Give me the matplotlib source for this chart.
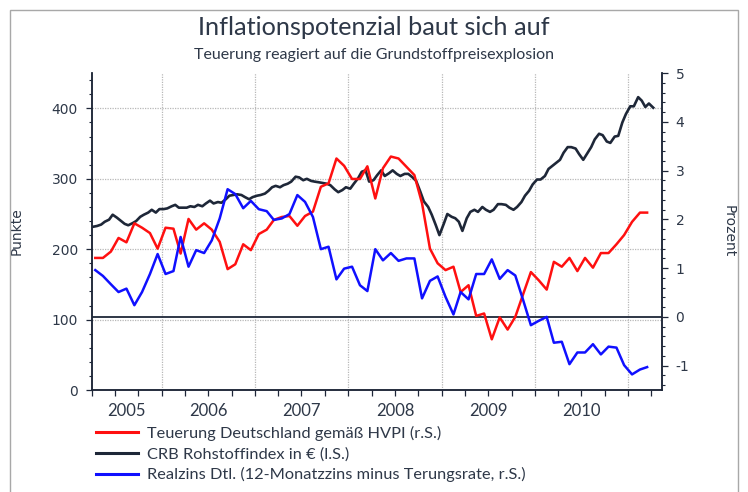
import matplotlib
matplotlib.use('Agg')
import matplotlib.pyplot as plt
import matplotlib.patches as patches
from matplotlib.lines import Line2D
from matplotlib.ticker import MultipleLocator, FixedLocator, NullFormatter, FixedFormatter
import matplotlib.dates as mdates
import pandas as pd

plt.rcParams['axes.unicode_minus'] = False

# ---------------- data ----------------
months = pd.date_range('2005-04-01', periods=72, freq='MS') + pd.Timedelta(days=14)

teuerung = [1.21, 1.21, 1.34, 1.62, 1.53, 1.92, 1.83, 1.72, 1.40,
            1.83, 1.81, 1.30, 2.01, 1.79, 1.92, 1.79, 1.54, 0.98, 1.08, 1.49, 1.37,
            1.70, 1.79, 1.99, 2.05, 2.07, 1.87, 2.07, 2.16, 2.67, 2.74, 3.25, 3.10,
            2.83, 2.83, 3.09, 2.43, 3.05, 3.29, 3.25, 3.08, 2.91, 2.33, 1.40, 1.10,
            0.96, 1.03, 0.51, 0.65, 0.02, 0.07, -0.46, -0.01, -0.26, 0.00, 0.47, 0.92,
            0.75, 0.56, 1.13, 1.03, 1.21, 0.94, 1.21, 1.01, 1.31, 1.31, 1.49, 1.68,
            1.95, 2.14, 2.14]

realzins = [0.96, 0.84, 0.67, 0.51, 0.58, 0.24, 0.51, 0.88, 1.29,
            0.88, 0.94, 1.64, 1.03, 1.37, 1.31, 1.57, 2.02, 2.62, 2.52, 2.23, 2.38,
            2.21, 2.17, 1.99, 2.02, 2.11, 2.50, 2.36, 2.05, 1.39, 1.44, 0.77, 0.99,
            1.03, 0.65, 0.53, 1.39, 1.16, 1.31, 1.15, 1.20, 1.20, 0.38, 0.74, 0.83,
            0.41, 0.05, 0.51, 0.36, 0.88, 0.88, 1.18, 0.78, 0.96, 0.85, 0.34, -0.17,
            -0.08, 0.00, -0.53, -0.51, -0.97, -0.73, -0.73, -0.56, -0.77, -0.61, -0.63, -0.99,
            -1.18, -1.08, -1.03]

crb_dates = pd.date_range('2005-04-01', periods=145, freq='SMS') + pd.Timedelta(days=7)
crb = [232, 233, 235, 239, 242, 249, 245, 241, 236, 234,
       237, 240, 246, 249, 252, 256, 252, 257, 257, 258,
       261, 263, 259, 259, 259, 261, 260, 263, 261, 265,
       269, 265, 267, 266, 271, 276, 277, 278, 277, 274,
       271, 274, 276, 277, 279, 283, 288, 290, 288, 291,
       293, 296, 303, 302, 298, 300, 297, 296, 295, 294,
       293, 291, 285, 281, 284, 288, 286, 293, 301, 310,
       312, 296, 298, 305, 312, 304, 308, 312, 307, 304,
       307, 307, 302, 297, 282, 268, 260, 249, 234, 220,
       236, 250, 246, 244, 239, 226, 244, 253, 256, 253,
       260, 256, 253, 256, 264, 264, 263, 259, 256, 260,
       267, 276, 283, 292, 299, 299, 304, 314, 318, 322,
       327, 337, 345, 345, 343, 335, 327, 335, 345, 356,
       364, 362, 353, 351, 360, 361, 380, 392, 403, 403,
       416, 411, 402, 407, 401]

years = [2005, 2006, 2007, 2008, 2009, 2010]
year_labels = ['2005', '2006', '2007', '2008', '2009', '2010']

labels = ['Teuerung Deutschland gemäß HVPI (r.S.)',
          'CRB Rohstoffindex in € (l.S.)',
          'Realzins Dtl. (12-Monatzzins minus Terungsrate, r.S.)']

title = 'Inflationspotenzial baut sich auf'
subtitle = 'Teuerung reagiert auf die Grundstoffpreisexplosion'

# ---------------- style ----------------
RED = '#ff1010'
BLUE = '#1010ff'
DARK = '#1e2738'
TXT = '#2e3848'
GRID = '#b8b8b8'
TFONT = ['Lato', 'DejaVu Sans']

x_start = pd.Timestamp('2005-04-01')
x_end = pd.Timestamp('2011-05-11')

fig = plt.figure(figsize=(7.48, 4.92), dpi=100)
ax = fig.add_axes([0.1226, 0.2073, 0.762, 0.6439])
ax2 = ax.twinx()

# year boundary grid
for y in years[1:] + [2011]:
    ax.axvline(pd.Timestamp(f'{y}-01-01'), color=GRID, lw=0.9, ls=(0, (1, 1)), zorder=0)
for v in [100, 200, 300, 400]:
    ax.axhline(v, color=GRID, lw=0.9, ls=(0, (1, 1)), zorder=0)

ax2.axhline(0, color=DARK, lw=1.3, zorder=1)

ax.plot(crb_dates, crb, color=DARK, lw=1.9, zorder=3)
ax2.plot(months, teuerung, color=RED, lw=1.8, zorder=3)
ax2.plot(months, realzins, color=BLUE, lw=1.8, zorder=4)

ax.set_xlim(x_start, x_end)
ax.set_ylim(0, 450)
ax2.set_ylim(-1.5, 5)

# x ticks: quarterly marks, year labels centred in visible year span
quarters = pd.date_range('2005-04-01', '2011-04-01', freq='QS')
ax.xaxis.set_major_locator(FixedLocator(mdates.date2num(quarters)))
ax.xaxis.set_major_formatter(NullFormatter())
centers = []
for y in years:
    a = max(x_start, pd.Timestamp(f'{y}-01-01'))
    b = min(x_end, pd.Timestamp(f'{y + 1}-01-01'))
    centers.append(a + (b - a) / 2)
ax.xaxis.set_minor_locator(FixedLocator(mdates.date2num(centers)))
ax.xaxis.set_minor_formatter(FixedFormatter(year_labels))
ax.tick_params(axis='x', which='major', length=4, width=0.9, color=DARK, direction='out')
ax.tick_params(axis='x', which='minor', length=0, pad=9, labelsize=12, labelcolor=TXT)
for lab in ax.get_xticklabels(minor=True):
    lab.set_family(TFONT)

ax.yaxis.set_major_locator(MultipleLocator(100))
ax.yaxis.set_minor_locator(MultipleLocator(20))
ax.tick_params(axis='y', which='major', length=4, width=0.9, color=DARK, labelsize=10, labelcolor=TXT, pad=6)
ax.tick_params(axis='y', which='minor', length=2.5, width=0.8, color=DARK)

ax2.yaxis.set_major_locator(MultipleLocator(1))
ax2.yaxis.set_minor_locator(MultipleLocator(0.2))
ax2.tick_params(axis='y', which='major', length=4, width=0.9, color=DARK, labelsize=10, labelcolor=TXT, pad=6)
ax2.tick_params(axis='y', which='minor', length=2.5, width=0.8, color=DARK)
ax2.set_yticks([-1, 0, 1, 2, 3, 4, 5])

for a in (ax, ax2):
    a.spines['top'].set_visible(False)
    for s in ('left', 'right', 'bottom'):
        a.spines[s].set_color(DARK)
        a.spines[s].set_linewidth(1.1)

ax.set_ylabel('Punkte', fontsize=10, color=TXT, labelpad=20)
ax2.set_ylabel('Prozent', fontsize=10, color=TXT, rotation=270, labelpad=33)

fig.text(0.5, 0.945, title, ha='center', va='center', fontsize=18.2, color=TXT, family=TFONT)
fig.text(0.5, 0.889, subtitle, ha='center', va='center', fontsize=11.5, color=TXT, family=TFONT)

handles = [Line2D([], [], color=RED, lw=2.2),
           Line2D([], [], color=DARK, lw=2.2),
           Line2D([], [], color=BLUE, lw=2.2)]
leg = fig.legend(handles, labels, loc='upper left', bbox_to_anchor=(0.128, 0.134),
                 frameon=False, handlelength=2.6, handletextpad=0.5, labelspacing=0.36,
                 borderaxespad=0, borderpad=0, prop={'family': TFONT, 'size': 11.8})
for t in leg.get_texts():
    t.set_color(TXT)

fig.patches.append(patches.Rectangle((10 / 748, -0.02), 728 / 748, 1.02 - 10 / 492,
                                     transform=fig.transFigure, fill=False,
                                     edgecolor='#a8a8a8', lw=1.0))

fig.savefig('out.png', dpi=100)
